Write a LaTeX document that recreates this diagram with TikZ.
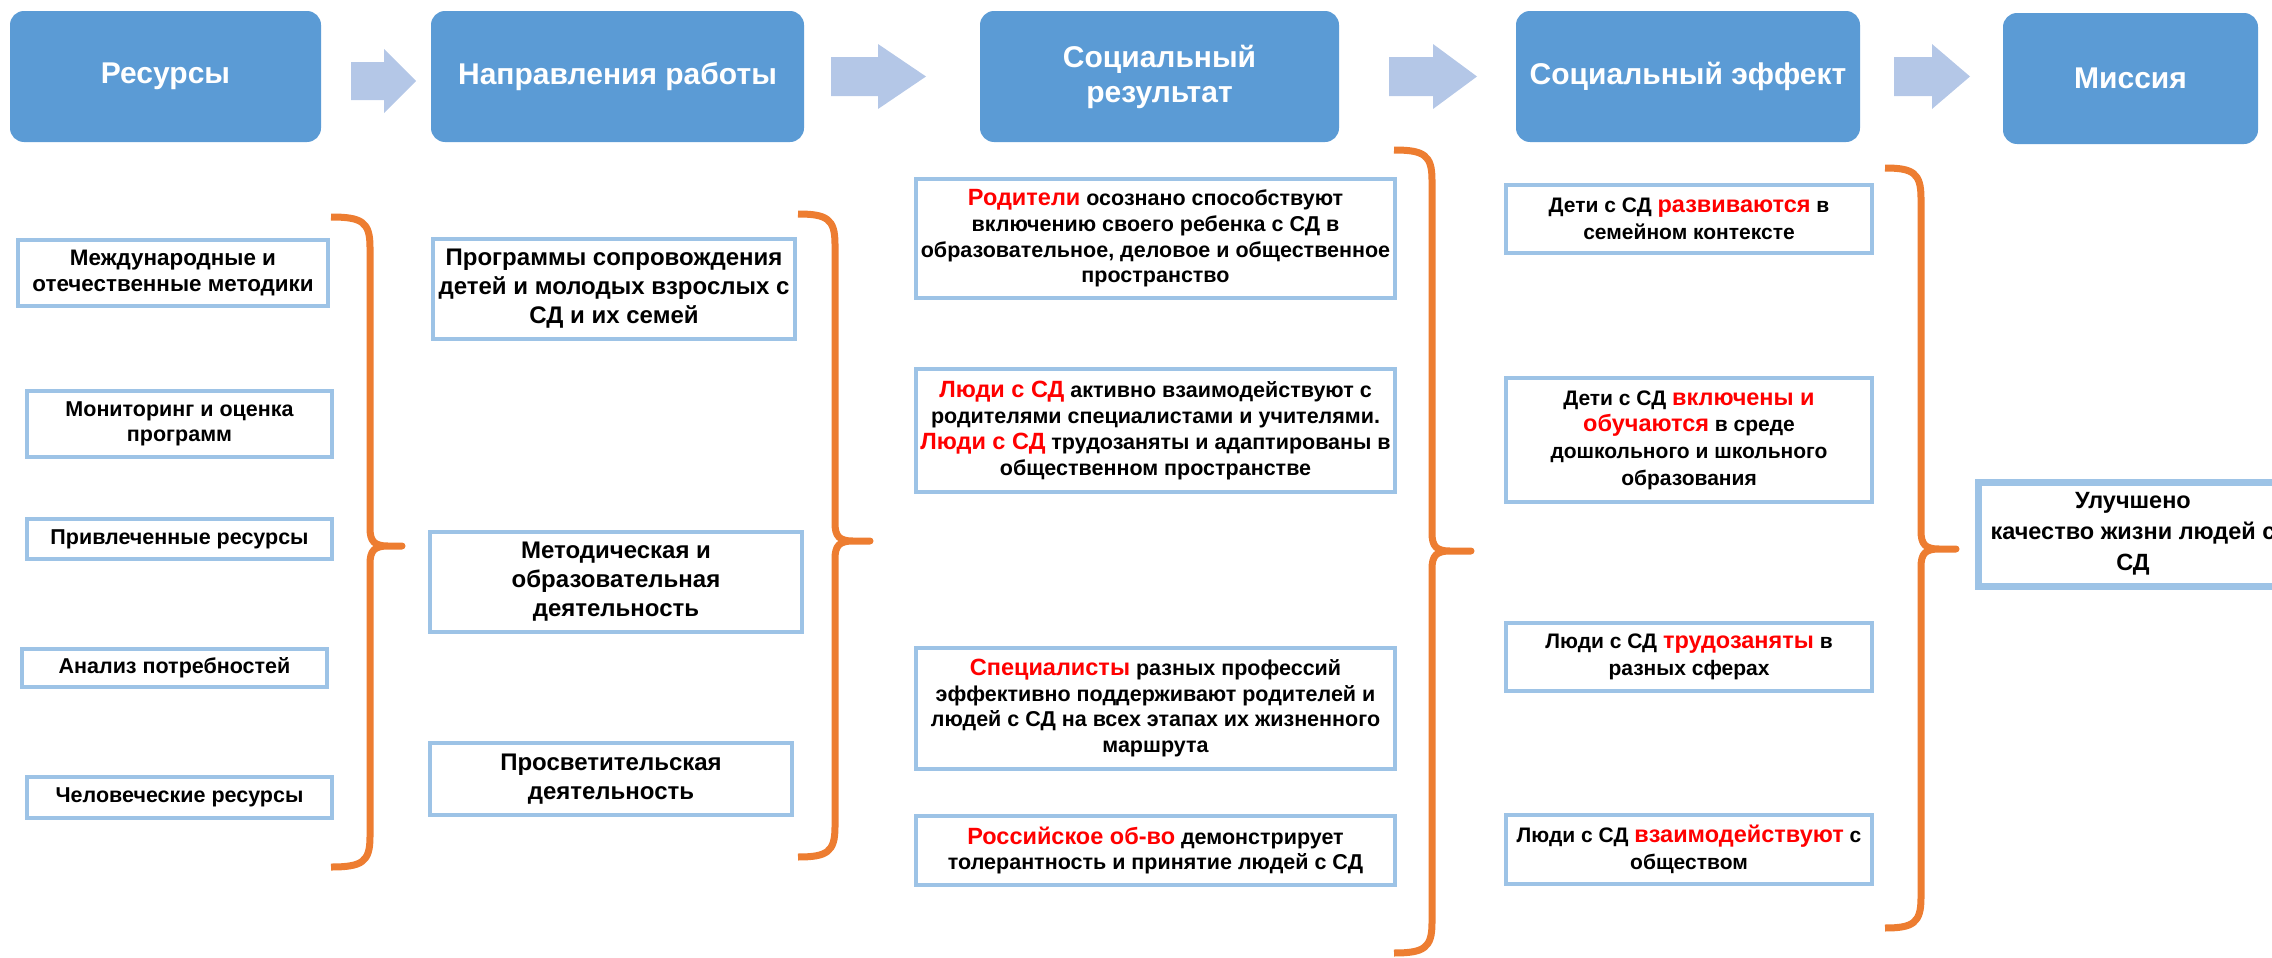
\documentclass[tikz,border=0pt]{standalone}
\usepackage{fontspec}
\setmainfont{Liberation Sans}
\definecolor{hdr}{RGB}{91,155,213}
\definecolor{arrowc}{RGB}{180,199,231}
\definecolor{boxc}{RGB}{157,195,230}
\definecolor{bracec}{RGB}{237,125,49}
\definecolor{redw}{RGB}{255,0,0}
\newcommand\ftHdr{\fontsize{15pt}{17.5pt}\selectfont\bfseries}
\newcommand\ftColA{\fontsize{10.75pt}{12.75pt}\selectfont\bfseries}
\newcommand\ftColAA{\fontsize{11.2pt}{13pt}\selectfont\bfseries}
\newcommand\ftColB{\fontsize{12pt}{14.5pt}\selectfont\bfseries}
\newcommand\ftColC{\fontsize{10.75pt}{12.85pt}\selectfont\bfseries}
\newcommand\ftColD{\fontsize{10.5pt}{13.3pt}\selectfont\bfseries}
\newcommand\ftColE{\fontsize{11.75pt}{15.5pt}\selectfont\bfseries}
\newcommand\redword[1]{{\fontsize{11.75pt}{12.9pt}\selectfont\color{redw}#1}}
\begin{document}
\begin{tikzpicture}[x=0.5pt,y=-0.5pt,
  sz/.style 2 args={minimum width=#1*0.5pt, minimum height=#2*0.5pt},
  hbox/.style={rounded corners=7pt, fill=hdr, text=white, font=\ftHdr, align=center, inner sep=0pt},
  bbox/.style={draw=boxc, line width=2pt, fill=white, align=center, inner sep=0pt, text=black},
  brace/.style={draw=bracec, line width=3.5pt, line join=round},
  barrow/.style={fill=arrowc}]
\useasboundingbox (0,0) rectangle (2272,958);
\clip (0,0) rectangle (2272,958);

% header boxes
\node[hbox, sz={311}{131}] (h1) at (165.5,76.5) {Ресурсы};
\node[hbox, sz={373}{131}] (h2) at (617.5,76.5) {Направления работы};
\node[hbox, sz={359}{131}] (h3) at (1159.5,76.5) {Социальный\\результат};
\node[hbox, sz={344}{131}] (h4) at (1688,76.5) {Социальный эффект};
\node[hbox, sz={255}{131}] (h5) at (2130.5,78.5) {Миссия};

% block arrows
\fill[barrow] (351,62) -- (384,62) -- (384,49) -- (416,81) -- (384,113) -- (384,100) -- (351,100) -- cycle;
\fill[barrow] (831,57) -- (878,57) -- (878,44) -- (926,76.5) -- (878,109) -- (878,96) -- (831,96) -- cycle;
\fill[barrow] (1389,57) -- (1433,57) -- (1433,44) -- (1477,76.5) -- (1433,109) -- (1433,96) -- (1389,96) -- cycle;
\fill[barrow] (1894,57) -- (1932,57) -- (1932,44) -- (1970,76.5) -- (1932,109) -- (1932,96) -- (1894,96) -- cycle;

% column 1
\node[bbox, sz={310}{66}, font=\ftColAA] (c1a) at (173,273) {Международные и\\отечественные методики};
\node[bbox, sz={305}{66}, font=\ftColA] (c1b) at (179.5,424) {Мониторинг и оценка\\программ};
\node[bbox, sz={305}{40}, font=\ftColA] (c1c) at (179.5,539) {Привлеченные ресурсы};
\node[bbox, sz={305}{38}, font=\ftColA] (c1d) at (174.5,668) {Анализ потребностей};
\node[bbox, sz={305}{41}, font=\ftColA] (c1e) at (179.5,797) {Человеческие ресурсы};

% column 2
\node[bbox, sz={362}{100}, font=\ftColB] (c2a) at (614,289) {Программы сопровождения\\детей и молодых взрослых с\\СД и их семей};
\node[bbox, sz={372}{100}, font=\ftColB] (c2b) at (616,582) {Методическая и\\образовательная\\деятельность};
\node[bbox, sz={362}{72}, font=\ftColB] (c2c) at (611,779) {Просветительская\\деятельность};

% column 3
\node[bbox, sz={479}{119}, font=\ftColC] (c3a) at (1155.5,238.5) {\redword{Родители} осознано способствуют\\включению своего ребенка с СД в\\образовательное, деловое и общественное\\пространство};
\node[bbox, sz={479}{123}, font=\ftColC] (c3b) at (1155.5,430.5) {\redword{Люди с СД} активно взаимодействуют с\\родителями специалистами и учителями.\\\redword{Люди с СД} трудозаняты и адаптированы в\\общественном пространстве};
\node[bbox, sz={479}{121}, font=\ftColC] (c3c) at (1155.5,708) {\redword{Специалисты} разных профессий\\эффективно поддерживают родителей и\\людей с СД на всех этапах их жизненного\\маршрута};
\node[bbox, sz={479}{69}, font=\ftColC] (c3d) at (1155.5,850.5) {\redword{Российское об-во} демонстрирует\\толерантность и принятие людей с СД};

% column 4
\node[bbox, sz={366}{68}, font=\ftColD] (c4a) at (1689,219) {Дети с СД \redword{развиваются} в\\семейном контексте};
\node[bbox, sz={366}{124}, font=\ftColD] (c4b) at (1689,440) {Дети с СД \redword{включены и}\\\redword{обучаются} в среде\\дошкольного и школьного\\образования};
\node[bbox, sz={366}{68}, font=\ftColD] (c4c) at (1689,657) {Люди с СД \redword{трудозаняты} в\\разных сферах};
\node[bbox, sz={366}{69}, font=\ftColD] (c4d) at (1689,849.5) {Люди с СД \redword{взаимодействуют} с\\обществом};

% column 5
\node[bbox, line width=3.5pt, sz={310}{104}, font=\ftColE] (c5) at (2133,534) {Улучшено\\качество жизни людей с\\СД};

% braces
\draw[brace] (331,217) .. controls (362,217) and (370,222) .. (370,247) -- (370,528) .. controls (370,541) and (374,546) .. (388,546) -- (402,546) -- (388,546) .. controls (374,546) and (370,551) .. (370,564) -- (370,837) .. controls (370,862) and (362,867) .. (331,867);
\draw[brace] (798,214) .. controls (827,214) and (835,219) .. (835,244) -- (835,523) .. controls (835,536) and (839,541) .. (853,541) -- (870,541) -- (853,541) .. controls (839,541) and (835,546) .. (835,559) -- (835,827) .. controls (835,852) and (827,857) .. (798,857);
\draw[brace] (1394,150) .. controls (1424,150) and (1432,155) .. (1432,180) -- (1432,533) .. controls (1432,546) and (1436,551) .. (1450,551) -- (1471,551) -- (1450,551) .. controls (1436,551) and (1432,556) .. (1432,569) -- (1432,923) .. controls (1432,948) and (1424,953) .. (1394,953);
\draw[brace] (1885,168) .. controls (1913,168) and (1921,173) .. (1921,198) -- (1921,531) .. controls (1921,544) and (1925,549) .. (1939,549) -- (1956,549) -- (1939,549) .. controls (1925,549) and (1921,554) .. (1921,567) -- (1921,898) .. controls (1921,923) and (1913,928) .. (1885,928);
\end{tikzpicture}
\end{document}
